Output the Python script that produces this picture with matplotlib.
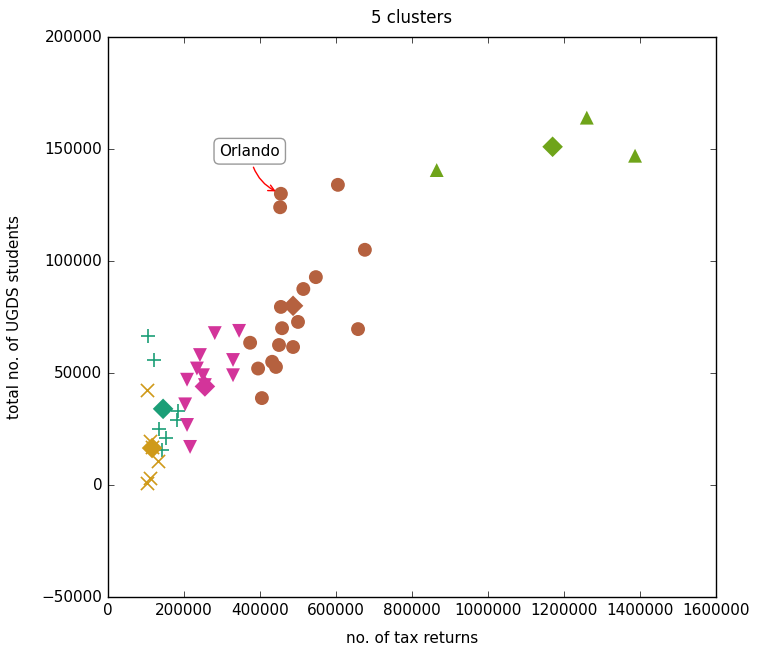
import matplotlib
matplotlib.use("Agg")
import matplotlib.pyplot as plt

plt.style.use("classic")
plt.rcParams["font.family"] = ["DejaVu Sans"]

# cluster members: tax returns (x), UGDS students (y)
teal_x = [105000, 121000, 183000, 181000, 135000, 152000, 143000]
teal_y = [66500, 55800, 33000, 29000, 25000, 21000, 15500]

gold_x = [103000, 110000, 132000, 110000, 102000, 115000]
gold_y = [42400, 19500, 10500, 3000, 1000, 17000]

pink_x = [281000, 345000, 242000, 234000, 250000, 208000, 255000,
          329000, 329000, 203000, 208000, 216000]
pink_y = [67800, 68800, 58000, 52000, 49000, 47000, 44600,
          55800, 49000, 36000, 26800, 17000]

brown_x = [547000, 514000, 455000, 500000, 458000, 374000, 450000, 487000,
           432000, 442000, 395000, 405000, 658000, 605000, 676000, 455000,
           453000]
brown_y = [92800, 87500, 79500, 72800, 70000, 63500, 62500, 61600,
           55000, 52700, 52000, 38800, 69600, 134000, 105000, 130000,
           124000]

green_x = [865000, 1260000, 1387000]
green_y = [140600, 164000, 147000]

# cluster centroids
cent_x = [145000, 116000, 255000, 487000, 1170000]
cent_y = [34000, 16500, 44000, 80000, 151000]

orlando_xy = (455000, 130000)
orlando_text_xy = (373000, 149000)

colors = ["#1b9e77", "#cf9a1a", "#d3349a", "#b5613f", "#6fa41a"]

fig = plt.figure(figsize=(7.57, 6.54), dpi=100, facecolor="white")
ax = fig.add_axes([108/757, 1 - 597/654, (716-108)/757, (597-37)/654])

ax.scatter(teal_x, teal_y, marker="+", s=110, color=colors[0], linewidths=1.2)
ax.scatter(gold_x, gold_y, marker="x", s=90, color=colors[1], linewidths=1.2)
ax.scatter(pink_x, pink_y, marker="v", s=100, color=colors[2], edgecolors="none")
ax.scatter(brown_x, brown_y, marker="o", s=100, color=colors[3], edgecolors="none")
ax.scatter(green_x, green_y, marker="^", s=100, color=colors[4], edgecolors="none")
for cx, cy, c in zip(cent_x, cent_y, colors):
    ax.scatter([cx], [cy], marker="D", s=110, color=c, edgecolors="none")

ax.annotate("Orlando", xy=orlando_xy, xytext=orlando_text_xy,
            ha="center", va="center", fontsize=11,
            bbox=dict(boxstyle="round,pad=0.35", fc="white", ec="#999999"),
            arrowprops=dict(arrowstyle="->", color="red",
                            connectionstyle="arc3,rad=0.3", shrinkB=4))

ax.set_xlim(0, 1600000)
ax.set_ylim(-50000, 200000)
ax.set_xticks(range(0, 1600001, 200000))
ax.set_yticks(range(-50000, 200001, 50000))
ax.tick_params(labelsize=11)
ax.ticklabel_format(useOffset=False, style="plain")
ax.set_title("5 clusters", fontsize=12, pad=10)
ax.set_xlabel("no. of tax returns", fontsize=11, labelpad=10)
ax.set_ylabel("total no. of UGDS students", fontsize=11, labelpad=14)

fig.savefig("out.png", dpi=100, facecolor="white")
